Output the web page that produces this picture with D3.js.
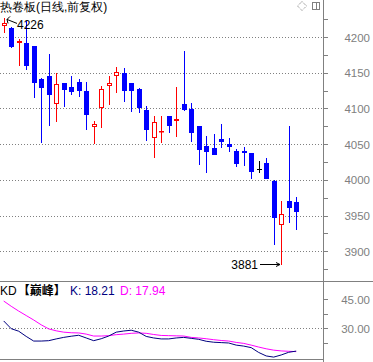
<!DOCTYPE html>
<html>
<head>
<meta charset="utf-8">
<script src="https://cdn.jsdelivr.net/npm/d3@7"></script>
<style>
  body { margin: 0; background: #fff; }
  svg { display: block; }
  text { font-family: "Liberation Sans", Arial, sans-serif; }
</style>
</head>
<body>
<div id="chart"></div>
<script>
// daily OHLC, oldest first
const opens  = [4215,4212,4192,4191,4188,4141,4145,4106,4136,4130,4137,4124,4074,4101,4131,4145,4150,4135,4127,4098,
                4059,4068,4089,4083,4106,4099,4075,4047,4045,4057,4050,4040,4040,4037,4015,4023,3999,3937,3971,3969]
const highs  = [4226,4214,4197,4223,4188,4142,4176,4149,4136,4145,4141,4137,4083,4131,4145,4158,4157,4135,4128,4103,
                4089,4089,4090,4130,4180,4108,4076,4061,4064,4078,4058,4043,4046,4037,4026,4030,4000,3971,4076,3976]
const lows   = [4206,4184,4160,4154,4115,4052,4075,4081,4102,4119,4116,4070,4050,4073,4105,4121,4109,4095,4094,4055,
                4031,4052,4066,4060,4097,4053,4021,4010,4035,4045,4039,4018,4020,4001,4009,4001,3909,3881,3940,3930]
const closes = [4220,4186,4194,4160,4135,4128,4119,4134,4126,4123,4125,4091,4078,4127,4135,4151,4125,4125,4101,4070,
                4081,4069,4076,4085,4098,4065,4042,4039,4035,4053,4046,4022,4038,4011,4015,4001,3946,3952,3961,3955]

const kValues = [33.8,29.8,28.5,25.8,23.4,23.4,23.6,24.5,25.3,25.9,26.4,25.0,23.6,24.6,26.0,28.0,28.6,29.0,28.0,25.8,
                 25.0,24.5,24.5,25.0,25.3,24.8,24.3,23.3,22.8,22.6,22.4,21.3,20.8,20.0,17.5,15.7,15.1,16.2,17.6,18.21]
const dValues = [44.1,41.4,38.9,36.6,34.3,31.8,29.7,28.7,28.0,27.7,27.6,27.0,26.0,26.0,26.2,26.7,27.0,27.4,27.6,27.4,
                 26.8,26.3,26.2,26.1,26.0,25.3,25.0,24.6,24.1,23.7,23.4,22.7,22.2,21.3,20.3,19.4,18.7,18.3,18.1,17.94]

const priceTicks = [3900, 3950, 4000, 4050, 4100, 4150, 4200]
const kdTicks = [30, 45]

const W = 373, H = 362
const axisX = 323
const RED = '#ff0000', BLUE = '#0000ff', GRAY = '#808080'

const svg = d3.select('#chart').append('svg')
  .attr('width', W).attr('height', H)

const x = d3.scaleLinear().domain([0, 39]).range([3.7, 296.2])
const y = d3.scaleLinear().domain([3900, 4200]).range([251.2, 37])
const yk = d3.scaleLinear().domain([30, 45]).range([328.3, 299.3])

const px = v => Math.round(v) + 0.5

// frame lines
svg.append('line').attr('x1', px(axisX)).attr('x2', px(axisX)).attr('y1', 0).attr('y2', H)
  .attr('stroke', GRAY)
svg.append('line').attr('x1', 0).attr('x2', W).attr('y1', 281.5).attr('y2', 281.5).attr('stroke', GRAY)
svg.append('line').attr('x1', 0).attr('x2', axisX).attr('y1', 359.5).attr('y2', 359.5).attr('stroke', GRAY)

// price grid
svg.append('g').selectAll('line').data(priceTicks).join('line')
  .attr('x1', 0).attr('x2', axisX)
  .attr('y1', d => px(y(d))).attr('y2', d => px(y(d)))
  .attr('stroke', GRAY).attr('stroke-dasharray', '1,2')

// price axis ticks
const minorTicks = d3.range(3875, 4226, 25)
svg.append('g').selectAll('line').data(minorTicks).join('line')
  .attr('x1', axisX + 1).attr('x2', axisX + 5)
  .attr('y1', d => px(y(d))).attr('y2', d => px(y(d)))
  .attr('stroke', GRAY)

svg.append('g').selectAll('text').data(priceTicks).join('text')
  .attr('x', 370).attr('y', d => y(d) + 4.5)
  .attr('text-anchor', 'end')
  .attr('fill', GRAY).attr('font-size', '11.5px')
  .text(d => d)

// candles
const idx = d3.range(opens.length)
const candles = svg.append('g')
idx.forEach(i => {
  const cx = Math.round(x(i))
  const up = closes[i] > opens[i]
  const flat = closes[i] === opens[i]
  const col = flat ? '#000' : (up ? RED : BLUE)
  const top = Math.round(y(Math.max(opens[i], closes[i])))
  const bot = Math.round(y(Math.min(opens[i], closes[i])))
  const hy = Math.round(y(highs[i])), ly = Math.round(y(lows[i]))
  if (up) {
    candles.append('line').attr('x1', cx + 0.5).attr('x2', cx + 0.5)
      .attr('y1', hy).attr('y2', top).attr('stroke', col)
    candles.append('line').attr('x1', cx + 0.5).attr('x2', cx + 0.5)
      .attr('y1', bot).attr('y2', ly).attr('stroke', col)
    candles.append('rect').attr('x', cx - 1.5).attr('y', top + 0.5)
      .attr('width', 4).attr('height', Math.max(bot - top - 1, 0.5))
      .attr('fill', '#fff').attr('stroke', col)
  } else {
    candles.append('line').attr('x1', cx + 0.5).attr('x2', cx + 0.5)
      .attr('y1', hy).attr('y2', ly).attr('stroke', col)
    candles.append('rect').attr('x', cx - 2).attr('y', top)
      .attr('width', 5).attr('height', Math.max(bot - top, 1))
      .attr('fill', col)
  }
})

// high / low markers
const hiX = Math.round(x(0)), hiY = y(4226)
svg.append('path')
  .attr('d', `M${hiX + 13},${hiY + 5}L${hiX + 3},${hiY + 1}M${hiX + 3},${hiY + 1}l3,-3M${hiX + 3},${hiY + 1}l1,4`)
  .attr('stroke', '#000').attr('fill', 'none')
svg.append('text').attr('x', hiX + 13).attr('y', hiY + 11)
  .attr('font-size', '12px').attr('fill', '#000').text('4226')

const loX = Math.round(x(37)), loY = Math.round(y(3881)) - 0.5
svg.append('path')
  .attr('d', `M${loX - 21},${loY}L${loX - 1},${loY}M${loX - 1},${loY}l-4,-2M${loX - 1},${loY}l-4,2`)
  .attr('stroke', '#000').attr('fill', 'none')
svg.append('text').attr('x', loX - 23).attr('y', loY + 4)
  .attr('text-anchor', 'end')
  .attr('font-size', '12px').attr('fill', '#000').text('3881')

// title + icons
svg.append('text').attr('x', 0).attr('y', 11)
  .attr('font-family', '"Noto Sans CJK SC", sans-serif')
  .attr('font-size', '12px').attr('fill', '#000')
  .text('热卷板(日线,前复权)')
svg.append('path').attr('d', 'M302,1.5L306.5,6L302,10.5L297.5,6Z')
  .attr('fill', 'none').attr('stroke', GRAY).attr('stroke-dasharray', '1,1')
svg.append('rect').attr('x', 312.5).attr('y', 2.5).attr('width', 7).attr('height', 7)
  .attr('fill', 'none').attr('stroke', GRAY)
svg.append('line').attr('x1', 316.5).attr('x2', 316.5).attr('y1', 2.5).attr('y2', 9.5)
  .attr('stroke', GRAY)

// KD panel
const kdHead = svg.append('text').attr('x', 0).attr('y', 294.5)
  .attr('font-size', '12px')
kdHead.append('tspan').attr('fill', '#000').text('KD')
kdHead.append('tspan').attr('fill', '#000').attr('font-weight', 'bold')
  .attr('font-family', '"Noto Sans CJK SC", sans-serif').attr('dx', 1).text('【巅峰】')
kdHead.append('tspan').attr('fill', '#000080').attr('x', 70).text('K: 18.21')
kdHead.append('tspan').attr('fill', '#ff00ff').attr('x', 120).text('D: 17.94')

svg.append('line').attr('x1', 0).attr('x2', axisX)
  .attr('y1', px(yk(30))).attr('y2', px(yk(30)))
  .attr('stroke', GRAY).attr('stroke-dasharray', '1,2')

svg.append('g').selectAll('line').data([22.5, 30, 37.5, 45]).join('line')
  .attr('x1', axisX + 1).attr('x2', axisX + 5)
  .attr('y1', d => px(yk(d))).attr('y2', d => px(yk(d)))
  .attr('stroke', GRAY)

svg.append('g').selectAll('text').data(kdTicks).join('text')
  .attr('x', 370).attr('y', d => yk(d) + 4.5)
  .attr('text-anchor', 'end')
  .attr('fill', GRAY).attr('font-size', '11.5px')
  .text(d => d.toFixed(2))

const line = vals => d3.line().x((d, i) => x(i)).y(d => yk(d))(vals)
svg.append('path').attr('d', line(dValues))
  .attr('fill', 'none').attr('stroke', '#ff00ff')
svg.append('path').attr('d', line(kValues))
  .attr('fill', 'none').attr('stroke', '#000080')
</script>
</body>
</html>
